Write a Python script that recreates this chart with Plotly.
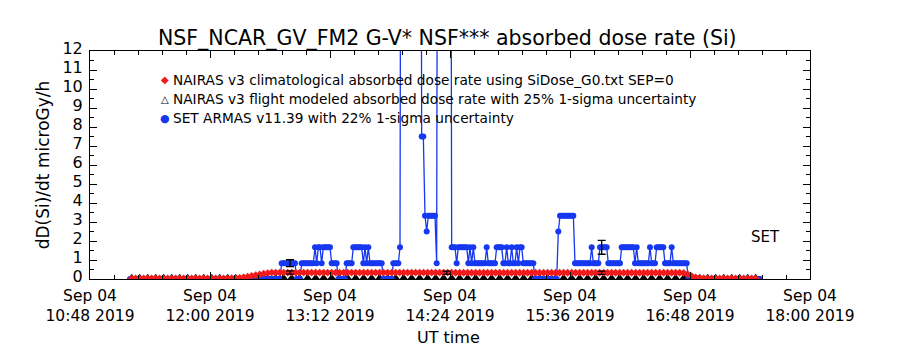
import pandas as pd
import plotly.graph_objects as go

# ---------------- data ----------------
BASE = pd.Timestamp("2019-09-04 10:48")

# SET ARMAS dose rate, one sample per minute starting 11:12 (minute 24 after 10:48)
BLUE_START_MIN = 24
BLUE_VALS = [
    0, 0, 0, 0, 0, 0, 0, 0, 0, 0,
    0, 0, 0, 0, 0, 0, 0, 0, 0, 0,
    0, 0, 0, 0, 0, 0, 0, 0, 0, 0,
    0, 0, 0, 0, 0, 0, 0, 0, 0, 0,
    0, 0, 0, 0, 0, 0, 0, 0, 0, 0,
    0, 0, 0, 0, 0, 0, 0, 0, 0, 0,
    0, 0, 0, 0, 0, 0, 0, 0, 0, 0,
    0, 0, 0, 0, 0, 0, 0, 0, 0, 0,
    0, 0, 0, 0, 0, 0, 0, 0, 0, 0,
    0, .83, .83, .83, .83, .83, .83, .83, .83, .83,
    0, 0, 0, .83, .83, .83, .83, .83, .83, .83,
    .83, 1.67, .83, 1.67, 1.67, .83, 1.67, 1.67, 1.67, 1.67,
    1.67, .83, .83, .83, .83, 0, 0, 0, 0, 0,
    .83, .83, .83, .83, 1.67, 1.67, 1.67, 1.67, 1.67, 1.67,
    .83, 1.67, .83, 1.67, .83, .83, .83, .83, .83, .83,
    .83, .83, 0, 0, 0, 0, 0, 0, .83, .83,
    .83, .83, 1.67, 50, 50, 50, 50, 50, 50, 50,
    50, 50, 50, 50, 50, 7.5, 7.5, 3.33, 2.5, 3.33,
    3.33, 3.33, 3.33, 3.33, .83, 50, 50, 50, 50, 50,
    50, 50, 50, 1.67, 1.67, 1.67, .83, 1.67, 1.67, 1.67,
    1.67, 1.67, 1.67, .83, 1.67, .83, 1.67, .83, .83, .83,
    .83, .83, .83, .83, 1.67, .83, .83, .83, .83, .83,
    1.67, 1.67, 1.67, 1.67, .83, .83, 1.67, .83, .83, 1.67,
    .83, .83, 1.67, .83, 1.67, 1.67, .83, .83, .83, .83,
    .83, .83, .83, 0, 0, 0, 0, 0, 0, 0,
    0, 0, 0, 0, 0, 0, 0, 2.5, 3.33, 3.33,
    3.33, 3.33, 3.33, 3.33, 3.33, 3.33, 3.33, .83, .83, .83,
    .83, .83, .83, .83, .83, .83, .83, 1.67, .83, .83,
    .83, .83, 1.67, 1.67, 1.67, 1.67, 1.67, .83, .83, .83,
    .83, .83, .83, .83, .83, 1.67, 1.67, 1.67, 1.67, 1.67,
    1.67, 1.67, 1.67, .83, 1.67, .83, .83, .83, .83, .83,
    .83, .83, 1.67, .83, .83, .83, 1.67, 1.67, 1.67, 1.67,
    1.67, .83, .83, .83, .83, 1.67, .83, .83, .83, .83,
    .83, .83, .83, .83, .83, 0, 0, 0, 0, 0,
    0, 0, 0, 0, 0, 0, 0, 0, 0, 0,
    0, 0, 0, 0, 0, 0, 0, 0, 0, 0,
    0, 0, 0, 0, 0, 0, 0, 0, 0, 0,
    0, 0, 0, 0, 0, 0, 0, 0, 0,
]

# NAIRAS climatological dose rate, one sample every 2.4 min starting 11:13
RED_START_MIN = 25
RED_STEP_MIN = 2.4
RED_VALS = [
    .03, .03, .03, .03, .03, .03, .03, .03, .03, .03,
    .03, .03, .03, .03, .03, .03, .03, .03, .03, .03,
    .03, .03, .03, .03, .03, .04, .05, .06, .09, .12,
    .16, .20, .24, .28, .31, .34, .34, .34, .34, .34,
    .34, .34, .34, .34, .34, .34, .34, .34, .34, .34,
    .34, .34, .34, .34, .34, .34, .34, .34, .34, .34,
    .34, .34, .34, .34, .34, .34, .34, .34, .34, .34,
    .34, .34, .34, .34, .34, .34, .34, .34, .34, .34,
    .34, .33, .33, .33, .33, .33, .33, .33, .33, .33,
    .33, .33, .33, .33, .33, .33, .33, .33, .33, .33,
    .33, .33, .33, .33, .33, .33, .33, .33, .33, .33,
    .33, .33, .33, .33, .33, .33, .33, .33, .33, .33,
    .33, .33, .33, .33, .33, .33, .33, .33, .33, .33,
    .33, .33, .33, .33, .33, .33, .33, .33, .32, .25,
    .15, .09, .06, .04, .03, .03, .03, .03, .03, .03,
    .03, .03, .03, .03, .03, .03, .03,
]

# NAIRAS flight-modeled dose rate, one sample every 4.8 min starting 11:13
BLACK_START_MIN = 25
BLACK_STEP_MIN = 4.8
BLACK_VALS = [
    .06, .06, .06, .06, .06, .06, .06, .06, .06, .06,
    .06, .06, .06, .06, .06, .06, .06, .06, .06, .06,
    .06, .06, .06, .06, .06, .06, .06, .06, .06, .06,
    .06, .06, .06, .06, .06, .06, .06, .06, .06, .06,
    .06, .06, .06, .06, .06, .06, .06, .06, .06, .06,
    .06, .06, .06, .06, .06, .06, .06, .06, .06, .06,
    .06, .06, .06, .06, .06, .06, .06, .06, .06, .06,
    .06, .06, .06, .06, .06, .06, .06, .06, .06,
]

# representative uncertainty bars
NAIRAS_ERR_MIN = [120, 214, 307]
NAIRAS_ERR_VAL = [0.34, 0.33, 0.33]
NAIRAS_ERR_PCT = 25
ARMAS_ERR_MIN = [120, 214, 307]
ARMAS_ERR_VAL = [0.83, 50, 1.67]
ARMAS_ERR_PCT = 22

X_RANGE = ["2019-09-04 10:48", "2019-09-04 18:00"]
X_TICK_TIMES = ["2019-09-04 10:48", "2019-09-04 12:00", "2019-09-04 13:12",
                "2019-09-04 14:24", "2019-09-04 15:36", "2019-09-04 16:48",
                "2019-09-04 18:00"]
X_TICK_TEXT = ["Sep 04<br>10:48 2019", "Sep 04<br>12:00 2019", "Sep 04<br>13:12 2019",
               "Sep 04<br>14:24 2019", "Sep 04<br>15:36 2019", "Sep 04<br>16:48 2019",
               "Sep 04<br>18:00 2019"]
Y_TICKS = [0, 1, 2, 3, 4, 5, 6, 7, 8, 9, 10, 11, 12]

LEGEND_NAMES = [
    "NAIRAS v3 climatological absorbed dose rate using SiDose_G0.txt SEP=0",
    "NAIRAS v3 flight modeled absorbed dose rate with 25% 1-sigma uncertainty",
    "SET ARMAS v11.39 with 22% 1-sigma uncertainty",
]

# ---------------- build ----------------
def tmin(m):
    return BASE + pd.Timedelta(minutes=m)

blue_t = [tmin(BLUE_START_MIN + i) for i in range(len(BLUE_VALS))]
red_t = [tmin(RED_START_MIN + RED_STEP_MIN * i) for i in range(len(RED_VALS))]
black_t = [tmin(BLACK_START_MIN + BLACK_STEP_MIN * i) for i in range(len(BLACK_VALS))]

RED = "#f21a1a"
BLUE = "#1638f0"
FONT = "DejaVu Sans"

# plot area in pixels: x 90..810, y 51..279
PL, PW, PT, PH = 90, 720, 51, 228


def px(xp):
    return (xp - PL) / PW


def py(yp):
    return (PT + PH - yp) / PH


fig = go.Figure()

fig.add_trace(go.Scatter(x=black_t, y=BLACK_VALS, mode="markers",
                         marker=dict(symbol="triangle-up", size=8, color="black"),
                         showlegend=False, hoverinfo="skip"))
fig.add_trace(go.Scatter(x=blue_t, y=BLUE_VALS, mode="lines+markers",
                         line=dict(color=BLUE, width=1.3),
                         marker=dict(symbol="circle", size=6, color=BLUE),
                         showlegend=False, hoverinfo="skip"))
fig.add_trace(go.Scatter(x=red_t, y=RED_VALS, mode="markers",
                         marker=dict(symbol="diamond", size=6, color=RED),
                         showlegend=False, hoverinfo="skip"))
fig.add_trace(go.Scatter(x=[tmin(m) for m in NAIRAS_ERR_MIN], y=NAIRAS_ERR_VAL,
                         mode="markers", marker=dict(size=1, color="rgba(0,0,0,0)"),
                         error_y=dict(type="percent", value=NAIRAS_ERR_PCT,
                                      color="black", thickness=1.3, width=4),
                         showlegend=False, hoverinfo="skip"))
fig.add_trace(go.Scatter(x=[tmin(m) for m in ARMAS_ERR_MIN], y=ARMAS_ERR_VAL,
                         mode="markers", marker=dict(size=1, color="rgba(0,0,0,0)"),
                         error_y=dict(type="percent", value=ARMAS_ERR_PCT,
                                      color="black", thickness=1.3, width=4),
                         showlegend=False, hoverinfo="skip"))

# in-plot legend (symbol + text), as in the reference
LEG_SYMBOLS = [("\u25C6", RED, 10), ("\u25B3", "black", 10), ("\u25CF", BLUE, 11)]
LEG_ROWS_Y = [80, 99, 118]
annotations = []
for name, (sym, col, fs), yy in zip(LEGEND_NAMES, LEG_SYMBOLS, LEG_ROWS_Y):
    annotations.append(dict(text=sym, xref="paper", yref="paper", x=px(165), y=py(yy),
                            xanchor="center", yanchor="middle", showarrow=False,
                            font=dict(family=FONT, size=fs, color=col)))
    annotations.append(dict(text=name, xref="paper", yref="paper", x=px(171), y=py(yy),
                            xanchor="left", yanchor="middle", showarrow=False,
                            font=dict(family=FONT, size=13.7, color="black")))
annotations.append(dict(text="SET", xref="paper", yref="paper", x=px(765), y=py(237),
                        xanchor="center", yanchor="middle", showarrow=False,
                        font=dict(family=FONT, size=15, color="black")))
annotations.append(dict(text="UT time", xref="paper", yref="paper", x=px(448), y=py(337),
                        xanchor="center", yanchor="middle", showarrow=False,
                        font=dict(family=FONT, size=16, color="black")))

axis_common = dict(showgrid=False, zeroline=False, color="black")

fig.update_layout(
    width=900, height=350,
    margin=dict(l=PL, r=900 - PL - PW, t=PT, b=350 - PT - PH, autoexpand=False),
    paper_bgcolor="white", plot_bgcolor="white",
    font=dict(family=FONT, size=16, color="black"),
    showlegend=False,
    title=dict(text="NSF_NCAR_GV_FM2 G-V* NSF*** absorbed dose rate (Si)",
               x=0.497, xanchor="center", y=1 - 38 / 350, yanchor="middle",
               font=dict(family=FONT, size=20.5, color="black")),
    xaxis=dict(type="date", range=X_RANGE, tickmode="array",
               tickvals=X_TICK_TIMES, ticktext=X_TICK_TEXT,
               ticks="inside", ticklen=7, tickwidth=1, tickcolor="black",
               minor=dict(ticks="inside", ticklen=4, dtick=864000,
                          tick0="2019-09-04 10:48", tickcolor="black"),
               showline=True, linecolor="black", linewidth=1, mirror="allticks",
               tickfont=dict(family=FONT, size=15.5), ticklabelstandoff=2,
               automargin=False, **axis_common),
    yaxis=dict(range=[0, 12], tickmode="array", tickvals=Y_TICKS,
               ticks="inside", ticklen=7, tickwidth=1, tickcolor="black",
               minor=dict(ticks="inside", ticklen=4, dtick=0.5, tickcolor="black"),
               showline=True, linecolor="black", linewidth=1, mirror="allticks",
               tickfont=dict(family=FONT, size=16), ticklabelstandoff=3,
               ticklabelshift=-3,
               title=dict(text="dD(Si)/dt microGy/h", font=dict(family=FONT, size=17),
                          standoff=8),
               automargin=False, **axis_common),
    annotations=annotations,
)

fig.write_html("out.html")
